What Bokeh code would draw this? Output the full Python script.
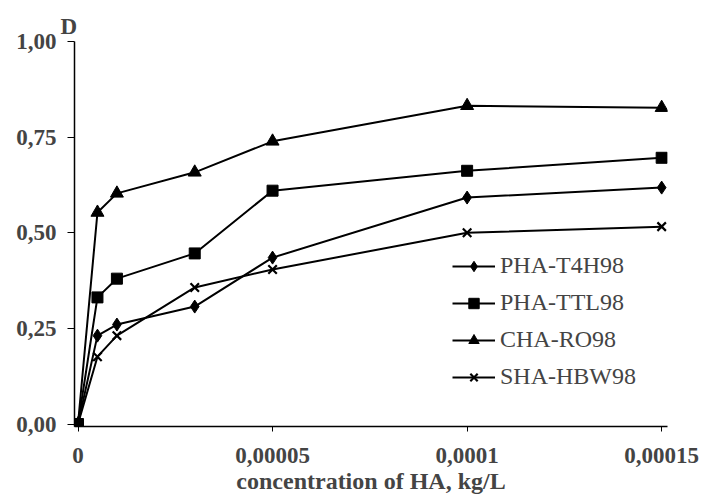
from bokeh.plotting import figure
from bokeh.models import (Range1d, FixedTicker, CustomJSTickFormatter, Legend,
                          LegendItem)
from bokeh.embed import file_html
from bokeh.resources import INLINE

# ---- data ----
x_conc = [0, 0.000005, 0.00001, 0.00003, 0.00005, 0.0001, 0.00015]
pha_t4h98 = [0, 0.231, 0.260, 0.307, 0.435, 0.592, 0.618]
pha_ttl98 = [0, 0.331, 0.380, 0.446, 0.610, 0.662, 0.696]
cha_ro98 = [0, 0.553, 0.603, 0.658, 0.739, 0.832, 0.827]
sha_hbw98 = [0, 0.176, 0.231, 0.357, 0.404, 0.500, 0.516]
series_names = ["PHA-T4H98", "PHA-TTL98", "CHA-RO98", "SHA-HBW98"]

x_ticks = [0, 0.00005, 0.0001, 0.00015]
x_tick_labels = ["0", "0,00005", "0,0001", "0,00015"]
y_ticks = [0, 0.25, 0.5, 0.75, 1.0]
y_tick_labels = ["0,00", "0,25", "0,50", "0,75", "1,00"]
x_title = "concentration of HA, kg/L"
y_title = "D"

# ---- styling ----
series_values = [pha_t4h98, pha_ttl98, cha_ro98, sha_hbw98]
markers = ["diamond", "square", "triangle", "x"]
marker_sizes = [13, 11, 13, 12]
FONT = "Liberation Serif"

p = figure(width=707, height=500,
           x_range=Range1d(-0.0000009, 0.0001515),
           y_range=Range1d(-0.0065, 1.0),
           output_backend="svg", toolbar_location=None)
p.min_border_left = 74
p.min_border_right = 40
p.min_border_top = 41
p.min_border_bottom = 74
p.outline_line_color = None
p.xgrid.visible = False
p.ygrid.visible = False
p.background_fill_color = "white"
p.border_fill_color = "white"

# y-axis title "D" drawn as the figure title, top-left above the axis
p.title.text = y_title
p.title.align = "left"
p.title.offset = -14
p.title.standoff = 6
p.title.text_font = FONT
p.title.text_font_style = "bold"
p.title.text_font_size = "23px"

fmt_code = """
let best = 0, d = Infinity;
for (let k = 0; k < vals.length; k++) {
  const e = Math.abs(vals[k] - tick);
  if (e < d) { d = e; best = k; }
}
return labs[best];
"""

xa = p.xaxis[0]
xa.ticker = FixedTicker(ticks=x_ticks)
xa.formatter = CustomJSTickFormatter(args=dict(vals=x_ticks, labs=x_tick_labels), code=fmt_code)
xa.major_tick_out = 5
xa.major_tick_in = 0
xa.minor_tick_out = 0
xa.minor_tick_in = 0
xa.major_label_standoff = 16
xa.major_label_text_font = FONT
xa.major_label_text_font_style = "bold"
xa.major_label_text_font_size = "23px"
xa.axis_label = x_title
xa.axis_label_text_font = FONT
xa.axis_label_text_font_style = "bold"
xa.axis_label_text_font_size = "24px"
xa.axis_label_standoff = 2
xa.axis_line_width = 1.5

ya = p.yaxis[0]
ya.ticker = FixedTicker(ticks=y_ticks)
ya.formatter = CustomJSTickFormatter(args=dict(vals=y_ticks, labs=y_tick_labels), code=fmt_code)
ya.major_tick_out = 7
ya.major_tick_in = 0
ya.minor_tick_out = 0
ya.minor_tick_in = 0
ya.major_label_standoff = 11
ya.major_label_text_font = FONT
ya.major_label_text_font_style = "bold"
ya.major_label_text_font_size = "23px"
ya.axis_line_width = 1.5

line_rs = []
for vals in series_values:
    line_rs.append(p.line(x_conc, vals, line_color="black", line_width=2))

scatter_rs = [None] * 4
for i in [3, 2, 1, 0]:
    vals, mk, ms = series_values[i], markers[i], marker_sizes[i]
    if mk == "x":
        scatter_rs[i] = p.scatter(x_conc, vals, marker=mk, size=ms, line_color="black", line_width=2.2)
    else:
        scatter_rs[i] = p.scatter(x_conc, vals, marker=mk, size=ms, fill_color="black", line_color="black")

items = [LegendItem(label=name, renderers=[lr, sr])
         for name, lr, sr in zip(series_names, line_rs, scatter_rs)]

legend = Legend(items=items, location=(378, 36))
legend.label_text_font = FONT
legend.label_text_font_size = "24px"
legend.glyph_width = 43
legend.glyph_height = 26
legend.label_height = 26
legend.spacing = 10
legend.padding = 0
legend.margin = 0
legend.label_standoff = 5
legend.border_line_color = None
legend.background_fill_alpha = 0
p.add_layout(legend)

open("out.html", "w").write(file_html(p, INLINE))
